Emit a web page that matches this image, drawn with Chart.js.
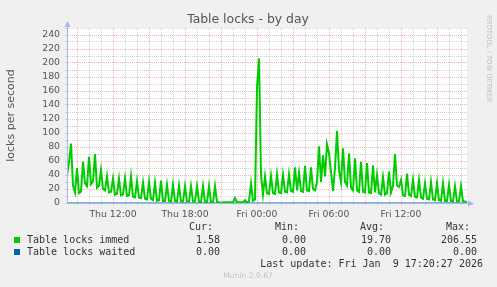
<!DOCTYPE html>
<html>
<head>
<meta charset="utf-8">
<script src="https://cdn.jsdelivr.net/npm/chart.js@4.4.1/dist/chart.umd.min.js"></script>
<style>
  html, body { margin: 0; padding: 0; background: #f0f0f0; }
  #wrap { position: relative; width: 497px; height: 287px; overflow: hidden; }
  #c { position: absolute; left: 0; top: 0; }
  .t { position: absolute; white-space: pre; font-family: "DejaVu Sans Mono", monospace; font-size: 10px; line-height: 12px; color: #333; }
  .sq { position: absolute; width: 6px; height: 6px; }
  #title { position: absolute; left: 0; width: 496px; top: 12px; text-align: center; font: 12.4px/14px "DejaVu Sans", sans-serif; color: #555; }
  #munin { position: absolute; left: 0; width: 496px; top: 271px; text-align: center; font: 7.6px/10px "DejaVu Sans", sans-serif; color: #c4c4c4; }
  #rrd { position: absolute; left: 485px; top: 15px; writing-mode: vertical-rl; font: 6.8px/8px "DejaVu Sans", sans-serif; color: #bcbcbc; white-space: pre; }
</style>
</head>
<body>
<div id="wrap">
  <canvas id="c" width="497" height="287"></canvas>
  <div id="title">Table locks - by day</div>
  <div id="rrd">RRDTOOL / TOBI OETIKER</div>
  <div id="munin">Munin 2.0.67</div>
</div>
<script>
// time axis: minutes since Thu 00:00, one sample every 10 minutes
const START_MIN = 490;
const STEP_MIN = 10;

const immed = [
  40, 58, 85, 25, 15, 50, 14, 16, 59, 28, 24, 66, 27, 31, 70, 22, 25, 47, 20, 18,
  38, 15, 16, 35, 12, 13, 35, 11, 12, 35, 10, 11, 38, 9, 8, 31, 8, 7, 29, 6,
  5, 30, 6, 4, 29, 3, 4, 32, 3, 3, 26, 3, 2, 26, 3, 2, 25, 2, 2, 24,
  2, 2, 24, 2, 2, 24, 2, 1, 24, 1, 1, 24, 1, 1, 24, 1, 1, 0, 1, 1,
  1, 1, 1, 1, 7, 1, 1, 1, 1, 4, 1, 2, 28, 3, 5, 165, 206.55, 40, 12, 38,
  14, 13, 39, 14, 13, 41, 15, 14, 40, 16, 15, 41, 17, 16, 51, 18, 43, 17, 16, 53,
  18, 17, 51, 20, 18, 30, 81, 30, 68, 38, 84, 71, 45, 17, 50, 103, 47, 30, 78, 30,
  25, 71, 22, 18, 64, 18, 16, 59, 16, 15, 57, 15, 14, 54, 15, 40, 14, 12, 37, 12,
  14, 45, 15, 25, 70, 25, 23, 33, 11, 10, 42, 12, 10, 33, 9, 8, 33, 8, 6, 28,
  6, 5, 30, 5, 4, 28, 4, 3, 28, 3, 3, 26, 3, 2, 24, 2, 2, 24, 2, 2,
  1.58
];
const waited = immed.map(() => 0);

const xTickMinutes = [720, 1080, 1440, 1800, 2160];
const xTickText = ["Thu 12:00", "Thu 18:00", "Fri 00:00", "Fri 06:00", "Fri 12:00"];

const legendRows = [
  { name: "Table locks immed", color: "#00cc00", cur: "1.58", min: "0.00", avg: "19.70", max: "206.55" },
  { name: "Table locks waited", color: "#0066b3", cur: "0.00", min: "0.00", avg: "0.00", max: "0.00" }
];

const X_MIN = START_MIN;
const X_MAX = START_MIN + (immed.length - 1) * STEP_MIN;

const toPts = (arr) => arr.map((v, i) => ({ x: START_MIN + i * STEP_MIN, y: v }));

const AXIS = "#aab4ee";
const MINOR = "rgba(128,128,128,0.33)";
const MAJOR = "rgba(225,80,80,0.42)";

const decor = {
  id: "decor",
  beforeDraw(chart) {
    const { ctx, chartArea: a } = chart;
    ctx.save();
    ctx.fillStyle = "#ffffff";
    ctx.fillRect(a.left, a.top, a.right - a.left, a.bottom - a.top);
    ctx.restore();
  },
  afterDraw(chart) {
    const { ctx, chartArea: a } = chart;
    const x0 = Math.round(a.left) + 0.5;
    const y0 = Math.round(a.bottom) + 0.5;
    ctx.save();
    ctx.strokeStyle = AXIS;
    ctx.fillStyle = AXIS;
    ctx.lineWidth = 1;
    ctx.beginPath();
    ctx.moveTo(x0, a.top);
    ctx.lineTo(x0, a.top - 4);
    ctx.moveTo(a.right, y0);
    ctx.lineTo(a.right + 2, y0);
    ctx.stroke();
    ctx.beginPath();
    ctx.moveTo(x0 - 3, a.top - 1);
    ctx.lineTo(x0 + 3, a.top - 1);
    ctx.lineTo(x0, a.top - 7);
    ctx.closePath();
    ctx.fill();
    ctx.beginPath();
    ctx.moveTo(a.right + 1, y0 - 3);
    ctx.lineTo(a.right + 1, y0 + 3);
    ctx.lineTo(a.right + 7, y0);
    ctx.closePath();
    ctx.fill();
    ctx.restore();
  }
};

new Chart(document.getElementById("c"), {
  type: "line",
  data: {
    datasets: [
      { label: "Table locks immed", data: toPts(immed), borderColor: "#00cc00", borderWidth: 2, pointRadius: 0, tension: 0, order: 1 },
      { label: "Table locks waited", data: toPts(waited), borderColor: "#0066b3", borderWidth: 1, pointRadius: 0, tension: 0, order: 2 }
    ]
  },
  options: {
    responsive: false,
    animation: false,
    events: [],
    layout: { padding: { left: 0, right: 30, top: 28, bottom: 64 } },
    plugins: { legend: { display: false }, title: { display: false }, tooltip: { enabled: false } },
    scales: {
      x: {
        type: "linear",
        min: X_MIN,
        max: X_MAX,
        afterBuildTicks: (s) => {
          const t = [];
          for (let m = Math.ceil(X_MIN / 60) * 60; m < X_MAX; m += 60) t.push({ value: m });
          s.ticks = t;
        },
        afterFit: (s) => { s.height = 20; },
        ticks: {
          autoSkip: false, maxRotation: 0, minRotation: 0, padding: 4,
          color: "#555",
          font: { family: "DejaVu Sans", size: 9.3 },
          callback: (v) => { const k = xTickMinutes.indexOf(v); return k >= 0 ? xTickText[k] : ""; }
        },
        grid: {
          color: (c) => (c.tick && c.tick.value % 180 === 0 ? MAJOR : MINOR),
          lineWidth: 1, drawTicks: true, tickLength: 2, tickColor: MINOR
        },
        border: { display: true, color: AXIS, width: 1, dash: [1, 1], z: 1 }
      },
      y: {
        min: 0,
        max: 250,
        afterFit: (s) => { s.width = 67; },
        ticks: {
          stepSize: 10, autoSkip: false, padding: 5,
          color: "#555",
          font: { family: "DejaVu Sans", size: 9.3 },
          callback: (v) => (v % 20 === 0 ? String(v) : "")
        },
        grid: {
          color: (c) => (c.tick && c.tick.value % 20 === 0 ? MAJOR : MINOR),
          lineWidth: 1, drawTicks: true, tickLength: 2, tickColor: MINOR
        },
        border: { display: true, color: AXIS, width: 1, dash: [1, 1], z: 1 },
        title: {
          display: true, text: "locks per second", color: "#555",
          font: { family: "DejaVu Sans", size: 11 }, padding: { top: 5, bottom: 0 }
        }
      }
    }
  },
  plugins: [decor]
});

// munin style legend table
const wrap = document.getElementById("wrap");
function addText(txt, opts) {
  const d = document.createElement("div");
  d.className = "t";
  d.textContent = txt;
  if (opts.left != null) d.style.left = opts.left + "px";
  if (opts.right != null) d.style.right = (497 - opts.right) + "px";
  d.style.top = (opts.cy - 6) + "px";
  wrap.append(d);
}

const colHead = [["Cur:", 213], ["Min:", 299], ["Avg:", 384], ["Max:", 470]];
const colVal = [220, 306, 391, 477];
colHead.forEach(([h, r]) => addText(h, { right: r, cy: 227 }));

legendRows.forEach((row, i) => {
  const cy = 239.5 + i * 12;
  const sq = document.createElement("div");
  sq.className = "sq";
  sq.style.left = "14px";
  sq.style.top = (cy - 3) + "px";
  sq.style.background = row.color;
  wrap.append(sq);
  addText(row.name, { left: 27, cy });
  [row.cur, row.min, row.avg, row.max].forEach((v, k) => addText(v, { right: colVal[k], cy }));
});

addText("Last update: Fri Jan  9 17:20:27 2026", { right: 483, cy: 263.5 });
</script>
</body>
</html>
